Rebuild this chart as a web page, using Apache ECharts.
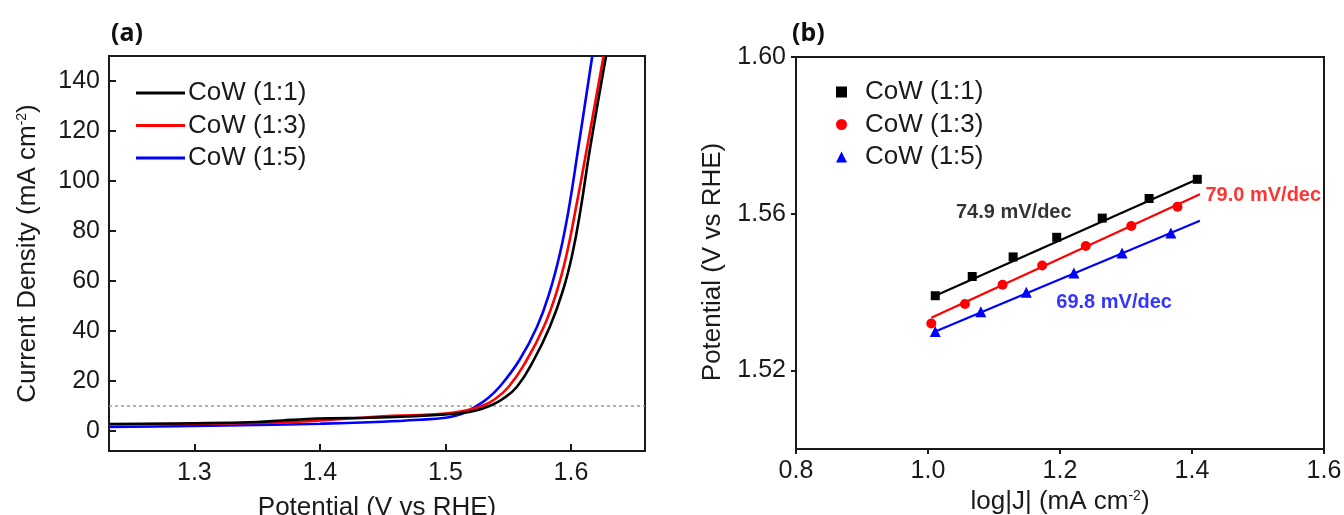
<!DOCTYPE html>
<html>
<head>
<meta charset="utf-8">
<script src="https://cdn.jsdelivr.net/npm/echarts@6/dist/echarts.min.js"></script>
<style>
  html, body { margin: 0; padding: 0; background: #ffffff; }
  #chart { width: 1344px; height: 515px; }
</style>
</head>
<body>
<div id="chart"></div>
<script>
// ---------- Panel (a): LSV curves ----------
const seriesNames = ['CoW (1:1)', 'CoW (1:3)', 'CoW (1:5)'];
const seriesColors = ['#000000', '#ff0000', '#0000ff'];

const potential11 = [1.232, 1.30, 1.35, 1.37, 1.39, 1.41, 1.44, 1.47, 1.50, 1.515, 1.525, 1.535, 1.545, 1.557, 1.5704, 1.5832, 1.5935, 1.601, 1.6075, 1.615, 1.628];
const current11   = [2.8,   3.1,  3.6,  4.2,  4.8,  5.1,  5.3,  5.8,  6.6,  7.3,   8.3,   10.0,  12.6,  17.7,  28.4,   41.7,   56.0,   70.5,  88.0,   112.4, 150];

const potential13 = [1.232, 1.30, 1.35, 1.38, 1.40, 1.43, 1.45, 1.48, 1.50, 1.512, 1.520, 1.529, 1.5384, 1.5504, 1.5648, 1.5784, 1.5885, 1.5965, 1.6035, 1.6125, 1.626];
const current13   = [2.6,   2.9,  3.2,  3.6,  4.2,  5.2,  5.9,  6.4,  7.0,  7.8,   8.7,   10.0,  12.4,   17.7,   28.4,   41.7,   55.5,   70.5,   88.0,   112.4,  150];

const potential15 = [1.232, 1.30, 1.35, 1.40, 1.45, 1.48, 1.50, 1.508, 1.516, 1.524, 1.533, 1.5432, 1.559, 1.573, 1.583, 1.591, 1.598, 1.6056, 1.617];
const current15   = [1.6,   2.0,  2.4,  2.9,  3.7,  4.5,  5.3,  6.1,  7.5,   9.8,   12.8,  17.7,   28.4,  41.7,  55.5,  70.5,  88.0,  112.4,  150];

const refCurrent = 10;
const xTicksA = [1.3, 1.4, 1.5, 1.6];
const yTicksA = [0, 20, 40, 60, 80, 100, 120, 140];

// ---------- Panel (b): Tafel plots ----------
const logJ11 = [1.011, 1.067, 1.129, 1.195, 1.264, 1.335, 1.408];
const tafel11 = [1.5391, 1.5440, 1.5490, 1.5540, 1.5589, 1.5639, 1.5688];
const logJ13 = [1.005, 1.056, 1.113, 1.173, 1.239, 1.308, 1.378];
const tafel13 = [1.5320, 1.5370, 1.5419, 1.5468, 1.5518, 1.5569, 1.5618];
const logJ15 = [1.011, 1.080, 1.149, 1.221, 1.294, 1.368];
const tafel15 = [1.5300, 1.5350, 1.5400, 1.5449, 1.5500, 1.5551];

// fitted line endpoints
const fitX11 = [1.011, 1.408];  const fitY11 = [1.5391, 1.5688];
const fitX13 = [1.005, 1.412];  const fitY13 = [1.5335, 1.5650];
const fitX15 = [1.011, 1.412];  const fitY15 = [1.5300, 1.5582];

const slopeLabels = ['74.9 mV/dec', '79.0 mV/dec', '69.8 mV/dec'];
const slopeLabelX = [1.130, 1.508, 1.282];
const slopeLabelY = [1.5603, 1.5646, 1.5373];

const yTicksB = [1.52, 1.56, 1.60];
const markerShapes = ['rect', 'circle', 'triangle'];

function pairs(xs, ys) { return xs.map((x, i) => [x, ys[i]]); }

const chart = echarts.init(document.getElementById('chart'), null, { renderer: 'canvas' });

const FONT = '"Liberation Sans", Arial, sans-serif';
const tickFont = { fontFamily: FONT, fontSize: 25, color: '#1a1a1a' };
const supStyle = { fontFamily: FONT, fontSize: 14, verticalAlign: 'top', padding: [0, 0, 12, 0], color: '#1a1a1a' };

const lsvPot = [potential11, potential13, potential15];
const lsvCur = [current11, current13, current15];
const tafX = [logJ11, logJ13, logJ15];
const tafY = [tafel11, tafel13, tafel15];
const fitXs = [fitX11, fitX13, fitX15];
const fitYs = [fitY11, fitY13, fitY15];
const bNames = ['b11', 'b13', 'b15'];

const series = [];
for (let i = 0; i < 3; i++) {
  const s = {
    name: seriesNames[i], type: 'line', xAxisIndex: 0, yAxisIndex: 0,
    data: pairs(lsvPot[i], lsvCur[i]), showSymbol: false, symbol: 'none',
    smooth: 0.45,
    lineStyle: { color: seriesColors[i], width: 2.6 }, itemStyle: { color: seriesColors[i] },
    z: 5 - i
  };
  if (i === 0) {
    s.markLine = {
      silent: true, symbol: ['none', 'none'], label: { show: false },
      lineStyle: { color: '#9a9a9a', type: [3, 3], width: 1.5 },
      data: [{ yAxis: refCurrent }], z: 1
    };
  }
  series.push(s);
}
for (let i = 0; i < 3; i++) {
  series.push({
    name: 'fit' + i, type: 'line', xAxisIndex: 1, yAxisIndex: 1,
    data: pairs(fitXs[i], fitYs[i]), symbol: 'none', silent: true,
    lineStyle: { color: seriesColors[i], width: 2.2 }, z: 2
  });
  series.push({
    name: bNames[i], type: 'scatter', xAxisIndex: 1, yAxisIndex: 1,
    data: pairs(tafX[i], tafY[i]), symbol: markerShapes[i],
    symbolSize: i === 0 ? 9 : (i === 1 ? 10 : 11),
    itemStyle: { color: seriesColors[i], opacity: 1 }, z: 3
  });
}
series.push({
  name: 'slopes', type: 'scatter', xAxisIndex: 1, yAxisIndex: 1, symbolSize: 0, silent: true,
  data: slopeLabels.map((t, i) => ({ value: [slopeLabelX[i], slopeLabelY[i]], name: t, label: { color: seriesColors[i] } })),
  label: { show: true, position: 'inside', formatter: p => p.name, fontFamily: FONT, fontWeight: 'bold', fontSize: 20, textBorderWidth: 0, textBorderColor: 'transparent' },
  z: 6
});

const option = {
  backgroundColor: '#ffffff',
  animation: false,
  title: [
    { text: '(a)', left: 106, top: 16, textStyle: { fontFamily: '"Noto Sans", "Open Sans", sans-serif', fontWeight: 'bold', fontSize: 25, color: '#111' } },
    { text: '(b)', left: 787, top: 16, textStyle: { fontFamily: '"Noto Sans", "Open Sans", sans-serif', fontWeight: 'bold', fontSize: 25, color: '#111' } }
  ],
  grid: [
    { left: 109, top: 56, width: 536, height: 395, outerBoundsMode: 'none', containLabel: false, show: true, borderColor: '#1a1a1a', borderWidth: 2, backgroundColor: 'transparent' },
    { left: 796, top: 57, width: 528, height: 392, outerBoundsMode: 'none', containLabel: false, show: true, borderColor: '#1a1a1a', borderWidth: 2, backgroundColor: 'transparent' }
  ],
  legend: [
    {
      data: seriesNames.map(n => ({ name: n, icon: 'rect' })), left: 131, top: 75, orient: 'vertical',
      itemWidth: 49, itemHeight: 3, itemGap: 6.5,
      textStyle: { fontFamily: FONT, fontSize: 26, color: '#1a1a1a', lineHeight: 26, padding: [0, 0, 0, -2] },
      selectedMode: false
    },
    {
      data: bNames.map((n, i) => ({ name: n, icon: markerShapes[i] })),
      formatter: n => seriesNames[bNames.indexOf(n)],
      left: 831, top: 74, orient: 'vertical',
      itemWidth: 11, itemHeight: 11, itemGap: 6.5,
      textStyle: { fontFamily: FONT, fontSize: 26, color: '#1a1a1a', lineHeight: 26, padding: [0, 0, 0, 13] },
      selectedMode: false
    }
  ],
  xAxis: [
    {
      type: 'value', gridIndex: 0, min: 1.232, max: 1.659,
      name: 'Potential (V vs RHE)', nameLocation: 'middle', nameGap: 44,
      nameTextStyle: { fontFamily: FONT, fontSize: 26, color: '#1a1a1a' },
      axisLine: { show: false, onZero: false },
      axisTick: { show: true, inside: true, length: 7, lineStyle: { color: '#1a1a1a', width: 2 }, customValues: xTicksA },
      axisLabel: { ...tickFont, margin: 10, customValues: xTicksA, formatter: v => v.toFixed(1) },
      splitLine: { show: false }
    },
    {
      type: 'value', gridIndex: 1, min: 0.8, max: 1.6, interval: 0.2,
      name: 'log|J| (mA cm{sup|-2})', nameLocation: 'middle', nameGap: 39,
      nameTextStyle: { fontFamily: FONT, fontSize: 26, color: '#1a1a1a', rich: { sup: supStyle } },
      axisLine: { show: false, onZero: false },
      axisTick: { show: true, inside: false, length: 5, lineStyle: { color: '#1a1a1a', width: 2 } },
      axisLabel: { ...tickFont, margin: 10, formatter: v => v.toFixed(1) },
      splitLine: { show: false }
    }
  ],
  yAxis: [
    {
      type: 'value', gridIndex: 0, min: -8, max: 150,
      name: 'Current Density (mA cm{sup|-2})', nameLocation: 'middle', nameGap: 68,
      nameTextStyle: { fontFamily: FONT, fontSize: 26, color: '#1a1a1a', rich: { sup: supStyle } },
      axisLine: { show: false, onZero: false },
      axisTick: { show: true, inside: true, length: 7, lineStyle: { color: '#1a1a1a', width: 2 }, customValues: yTicksA },
      axisLabel: { ...tickFont, margin: 9, customValues: yTicksA },
      splitLine: { show: false }
    },
    {
      type: 'value', gridIndex: 1, min: 1.50, max: 1.60,
      name: 'Potential (V vs RHE)', nameLocation: 'middle', nameGap: 70,
      nameTextStyle: { fontFamily: FONT, fontSize: 26, color: '#1a1a1a', padding: [0, 0, 0, -18] },
      axisLine: { show: false, onZero: false },
      axisTick: { show: true, inside: false, length: 5, lineStyle: { color: '#1a1a1a', width: 2 }, customValues: yTicksB },
      axisLabel: { ...tickFont, margin: 10, customValues: yTicksB, formatter: v => v.toFixed(2) },
      splitLine: { show: false }
    }
  ],
  series: series
};

chart.setOption(option);
</script>
</body>
</html>
